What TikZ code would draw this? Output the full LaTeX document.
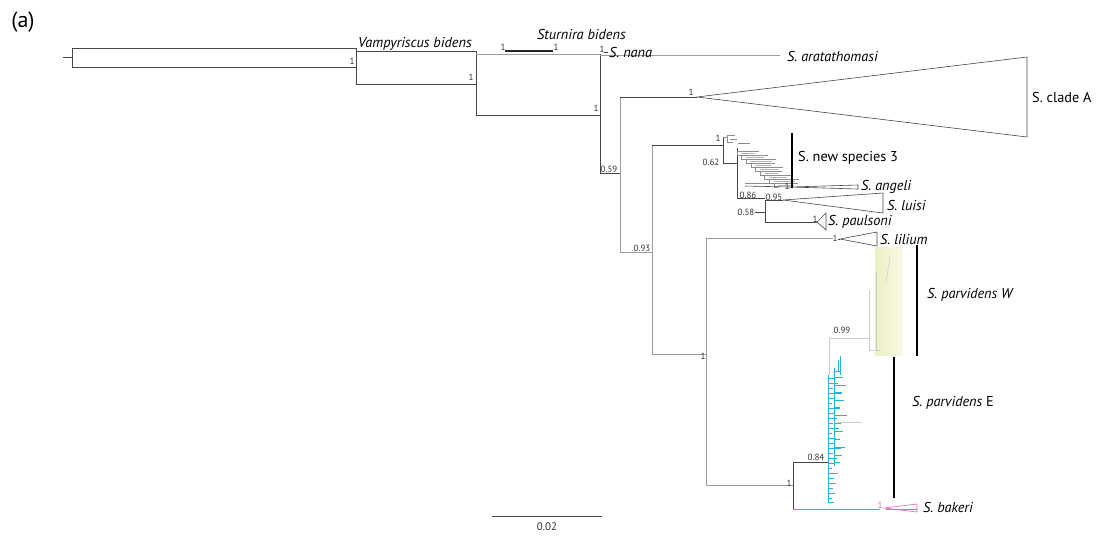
\documentclass[tikz,border=0pt]{standalone}
\usepackage{fontspec}
\setmainfont{PT Sans}
\definecolor{cyanb}{RGB}{40,175,225}
\definecolor{pinkb}{RGB}{205,110,175}
\definecolor{yel1}{RGB}{236,240,196}
\definecolor{yel2}{RGB}{248,248,230}
\begin{document}
\begin{tikzpicture}[x=1pt,y=-1pt,
  br/.style={draw=black!72,line width=0.6pt},
  lb/.style={draw=black!38,line width=0.6pt},
  fb/.style={draw=black!20,line width=0.5pt},
  tb/.style={draw=black!45,line width=0.45pt},
  cb/.style={draw=cyanb,line width=0.6pt},
  pb/.style={draw=pinkb,line width=0.6pt},
  bar/.style={draw=black,line width=2.6pt},
  sup/.style={font=\fontsize{9}{10}\selectfont,inner sep=0pt,text=black!80},
  lab/.style={font=\fontsize{14.3}{16}\selectfont,inner sep=0pt,anchor=west}]
\useasboundingbox (0,0) rectangle (1096,542);

% title
\node[font=\fontsize{22}{24}\selectfont,inner sep=0pt] (ttl) at (23,22) {(a)};

% ---- tree node coordinates
\coordinate (root) at (63,57);
\coordinate (nA) at (72,57);
\coordinate (nB) at (356,67);
\coordinate (nC) at (476,84);
\coordinate (nD) at (600,115);
\coordinate (nE) at (620,173);
\coordinate (nF) at (652,252);
\coordinate (nG) at (723,145);
\coordinate (nH) at (737,163);
\coordinate (nI) at (765,212);
\coordinate (nJ) at (706,354);
\coordinate (nK) at (793,485);
\coordinate (nL) at (828,462);
\coordinate (cA) at (697,97);
\coordinate (luA) at (783,200);
\coordinate (paA) at (817,222);
\coordinate (liA) at (840,239);
\coordinate (anA) at (790,187);
\coordinate (baA) at (884,508);

% outgroup box and stem
\draw[br] (root) -- (nA);
\draw[br] (72,48) rectangle (356,67);
% Vampyriscus node
\draw[br] (356,51) -- (356,84);
\draw[br] (356,51) -- (476,51);
\draw[br] (356,84) -- (nC);
% node C
\draw[br] (476,51) -- (476,115) -- (nD);
\draw[lb] (476,54) -- (600,54);
\draw[draw=black!85,line width=1.1pt] (505,51) -- (553,51);
% node D
\draw[br] (600,54) -- (600,173) -- (nE);
\draw[lb] (600,55) -- (780,55);
\draw[br] (604,52) -- (608,52);
% node E
\draw[lb] (620,97) -- (620,252) -- (nF);
\draw[br] (620,97) -- (cA);
\draw[br] (cA) -- (1027,57) -- (1027,137) -- cycle;
% node F
\draw[lb] (652,145) -- (652,354) -- (nJ);
\draw[br] (652,145) -- (nG);
% node G
\draw[br] (723,137) -- (723,163) -- (nH);
\draw[tb] (723,137) -- (727,137) (727,135) -- (727,142) (727,135) -- (735,135) (727,142) -- (733,142);
\draw[tb] (730,139) -- (737,139) (738,143) -- (750,143);
% node H
\draw[br] (737,148) -- (737,198) -- (765,198);
\foreach \i in {0,...,8}{
  \pgfmathsetmacro\yy{151+4*\i}
  \pgfmathsetmacro\xx{737+4.6*\i}
  \pgfmathsetmacro\ll{22+2*mod(\i*7,5)}
  \draw[tb] (\xx,\yy) -- (\xx+\ll,\yy);
  \draw[tb] (\xx,\yy) -- (\xx,\yy+4) -- (\xx+4.6,\yy+4);
  \draw[tb,draw=black!30] (\xx+4.6,\yy+2) -- (\xx+\ll-4,\yy+2);
}
\draw[br] (745,186) -- (anA);
\draw[tb] (745,183) -- (785,183);
\draw[br] (anA) -- (858,185) -- (858,189) -- cycle;
% node I
\draw[br] (765,200) -- (765,222) -- (paA);
\draw[br] (755,212) -- (nI);
\draw[br] (765,200) -- (luA);
\draw[br] (luA) -- (883,193) -- (883,213) -- cycle;
\draw[br] (paA) -- (826,213) -- (826,230) -- cycle;
% node J
\draw[lb] (706,238) -- (706,485) -- (nK);
\draw[lb] (706,238) -- (833,238);
\draw[br] (838,239) -- (liA);
\draw[br] (liA) -- (877,232) -- (877,246) -- cycle;
% node K
\draw[br] (793,462) -- (793,509);
\draw[br] (793,462) -- (nL);
\draw[pb] (793,509) -- (880,509);
\draw[pb] (baA) -- (917,504) -- (917,512) -- cycle;
\draw[pb] (886,509.5) -- (917,509.5);

% parvidens W region
\shade[left color=yel1,right color=yel2] (875,247) rectangle (903,355);
\draw[fb] (869,290) -- (869,350) -- (880,350);
\draw[fb] (830,338) -- (869,338);
\draw[fb] (829,338) -- (829,375);
\draw[fb] (876,272) -- (876,350);
\draw[fb] (890,257) -- (886,282);

% cyan cluster
\draw[cb] (828,375) -- (828,503);
\draw[cb] (834,368) -- (834,466);
\draw[cb] (840,356) -- (840,375);
\draw[cb] (838,360) -- (838,372);
\foreach \yy/\ll in {378/6,383/10,388/5,393/14,398/7,403/4,408/12,413/6,418/9,423/5,428/11,433/4,438/8,443/6,448/13,453/5,458/9,463/7,468/4,473/10,478/6,483/8,488/5,493/7,498/4,502/6}
  \draw[cb,line width=0.45pt] (828,\yy) -- (828+\ll,\yy);
\foreach \yy/\ll in {371/6,377/9,385/12,392/8,400/10,407/6,415/13,423/7,431/9,439/6,447/11,455/8,462/6}
  \draw[cb,line width=0.4pt] (834,\yy) -- (834+\ll,\yy);
\draw[fb] (838,422) -- (862,422);

% bars
\draw[bar] (792,133) -- (792,188);
\draw[bar] (917,245) -- (917,356);
\draw[bar] (894,357) -- (894,498);

% labels
\node[lab,anchor=west] (vb) at (358,44) {\itshape Vampyriscus bidens};
\node[lab,anchor=west] (sb) at (537,34) {\itshape Sturnira bidens};
\node[lab,anchor=west] (sn) at (609,52) {\itshape S. nana};
\node[lab,anchor=west] (sa) at (787,56) {\itshape S. aratathomasi};
\node[lab,anchor=west] (sc) at (1032,97) {S. clade A};
\node[lab,anchor=west] (ns) at (798,158) {S. new species 3};
\node[lab,anchor=west] (ang) at (861,187) {\itshape S. angeli};
\node[lab,anchor=west] (lu) at (887,205) {\itshape S. luisi};
\node[lab,anchor=west] (pa) at (828,222) {\itshape S. paulsoni};
\node[lab,anchor=west] (li) at (880,239) {\itshape S. lilium};
\node[lab,anchor=west] (pw) at (927,295) {\itshape S. parvidens W};
\node[lab,anchor=west] (pe) at (912,403) {\itshape S. parvidens\/ \upshape E};
\node[lab,anchor=west] (bk) at (923,507) {\itshape S. bakeri};

% support values
\node[sup] (s1) at (352,61) {1};
\node[sup] (s2) at (471,77) {1};
\node[sup] (s3) at (503,47) {1};
\node[sup] (s4) at (556,47) {1};
\node[sup] (s5) at (602,49) {1};
\node[sup] (s6) at (596,108) {1};
\node[sup] (s7) at (609,169) {0.59};
\node[sup] (s8) at (691,92) {1};
\node[sup] (s9) at (642,248) {0.93};
\node[sup] (s10) at (718,138) {1};
\node[sup] (s11) at (711,162) {0.62};
\node[sup] (s12) at (748,195) {0.86};
\node[sup] (s13) at (774,197) {0.95};
\node[sup] (s14) at (746,212) {0.58};
\node[sup] (s15) at (787,186) {1};
\node[sup] (s16) at (815,219) {1};
\node[sup] (s17) at (835,238) {1};
\node[sup] (s18) at (842,330) {0.99};
\node[sup] (s19) at (703,356) {1};
\node[sup] (s20) at (789,483) {1};
\node[sup] (s21) at (816,457) {0.84};
\node[sup,text=pinkb] (s22) at (880,505) {1};

% scale bar
\coordinate (sbl) at (492,516);
\coordinate (sbr) at (602,516);
\draw[br] (sbl) -- (sbr);
\node[sup,font=\fontsize{11}{12}\selectfont] (scl) at (547,527) {0.02};
\end{tikzpicture}
\end{document}
